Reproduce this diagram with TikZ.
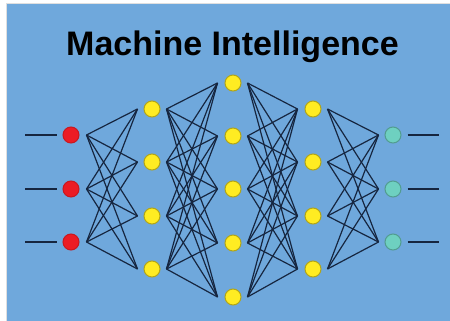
\documentclass[tikz,border=0pt]{standalone}
\usepackage{fontspec}
\setmainfont{Liberation Sans}
\usetikzlibrary{positioning}
\usepackage{xcolor}

\definecolor{bgblue}{RGB}{111,168,220}
\definecolor{wirenavy}{RGB}{22,38,64}
\definecolor{inred}{RGB}{236,28,36}
\definecolor{hidyellow}{RGB}{255,236,34}
\definecolor{outteal}{RGB}{110,208,192}

\begin{document}
\begin{tikzpicture}[x=1pt, y=-1pt,
  neuron/.style={circle, minimum size=16pt, inner sep=0pt, line width=1pt},
  wire/.style={draw=wirenavy, line width=1.2pt}]

\useasboundingbox (0,0) rectangle (450,321);
\fill[white] (0,0) rectangle (450,321);
\fill[gray!25] (6,3) rectangle (450,321);
\fill[bgblue] (7,4) rectangle (450,321);

\node[font=\bfseries\fontsize{34}{40}\selectfont, anchor=base] (title) at (232.5,56) {Machine Intelligence};

% input layer
\foreach \i/\y in {1/135, 2/189, 3/242} {
  \node[neuron, fill=inred, draw=inred!85!black] (a\i) at (71,\y) {};
  \coordinate (in\i) at (25,\y);
}
% hidden layers
\foreach \i/\y in {1/109, 2/162, 3/216, 4/269} {
  \node[neuron, fill=hidyellow, draw=hidyellow!70!black] (b\i) at (152,\y) {};
  \node[neuron, fill=hidyellow, draw=hidyellow!70!black] (d\i) at (313,\y) {};
}
\foreach \i/\y in {1/83, 2/136, 3/189, 4/243, 5/297}
  \node[neuron, fill=hidyellow, draw=hidyellow!70!black] (c\i) at (233,\y) {};
% output layer
\foreach \i/\y in {1/135, 2/189, 3/242} {
  \node[neuron, fill=outteal, draw=outteal!75!black] (e\i) at (393,\y) {};
  \coordinate (out\i) at (439,\y);
}

% wires in and out
\foreach \i in {1,2,3} {
  \draw[wire, line width=1.5pt] (in\i) -- ([xshift=-6pt]a\i.west);
  \draw[wire, line width=1.5pt] ([xshift=6pt]e\i.east) -- (out\i);
}

% connections
\foreach \i in {1,...,3}
  \foreach \j in {1,...,4}
    \draw[wire] ([xshift=7pt]a\i.east) -- ([xshift=-6pt]b\j.west);
\foreach \i in {1,...,4}
  \foreach \j in {1,...,5}
    \draw[wire] ([xshift=6pt]b\i.east) -- ([xshift=-7pt]c\j.west);
\foreach \i in {1,...,5}
  \foreach \j in {1,...,4}
    \draw[wire] ([xshift=6pt]c\i.east) -- ([xshift=-7pt]d\j.west);
\foreach \i in {1,...,4}
  \foreach \j in {1,...,3}
    \draw[wire] ([xshift=6pt]d\i.east) -- ([xshift=-6pt]e\j.west);

\end{tikzpicture}
\end{document}
